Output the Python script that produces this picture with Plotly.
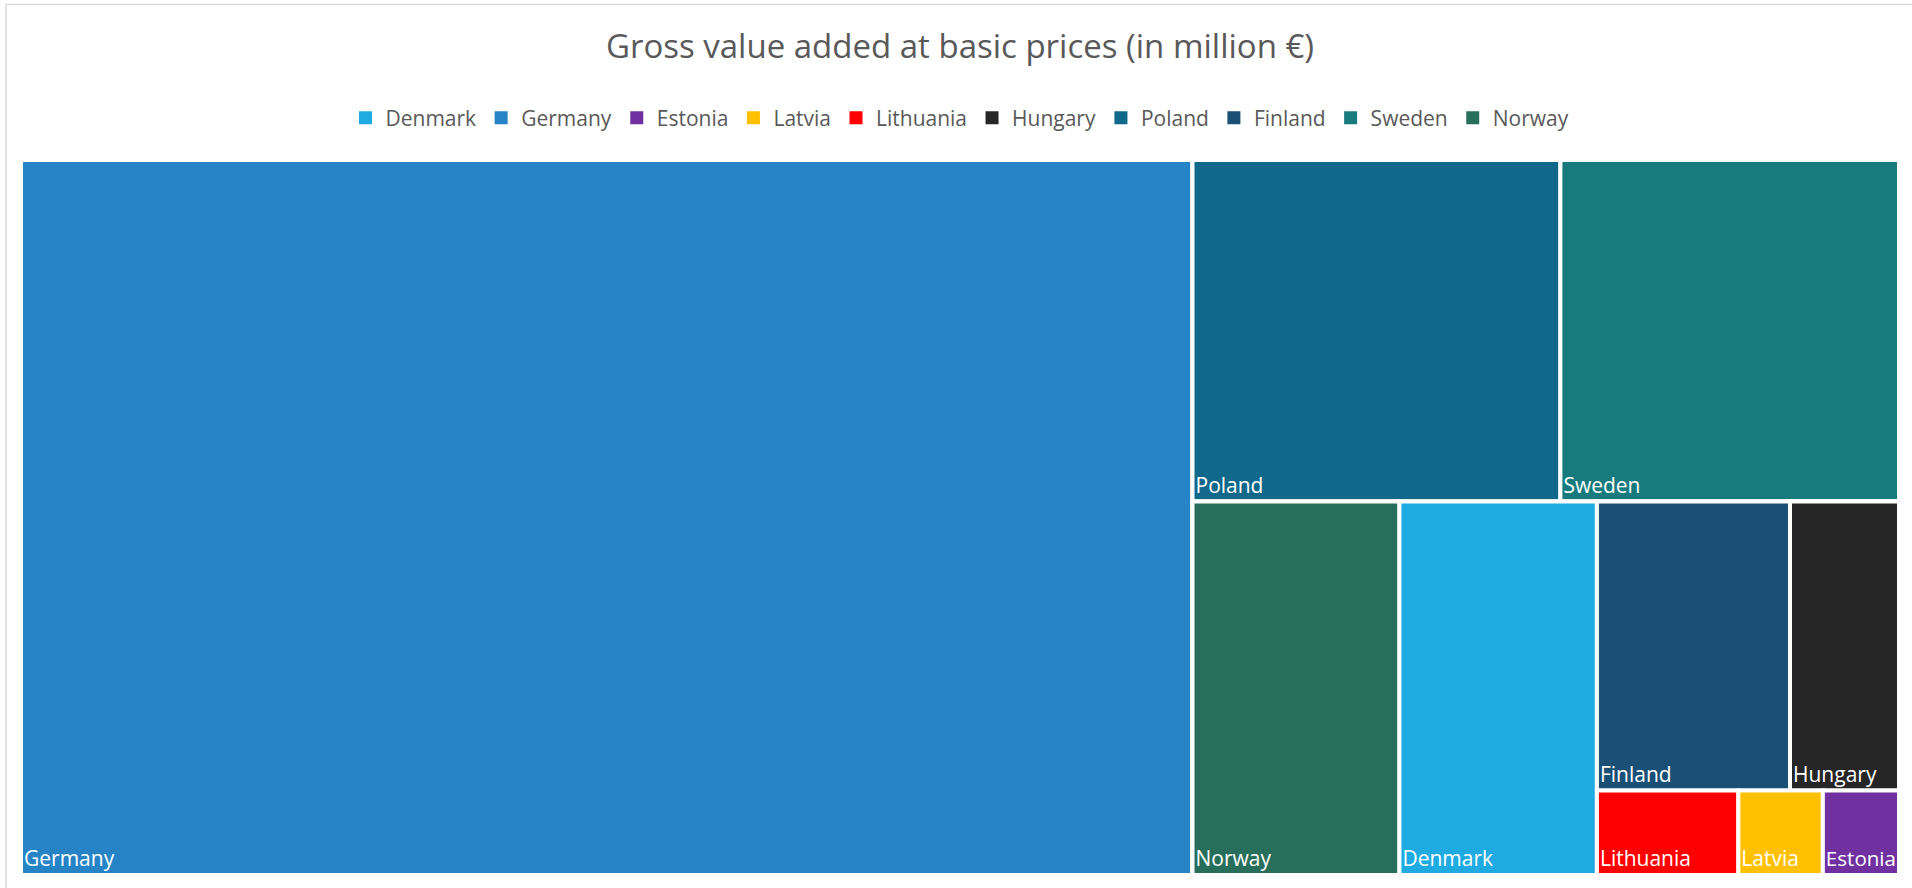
import plotly.graph_objects as go

# ---- data (million €) ----
countries = ["Germany", "Poland", "Sweden", "Norway", "Denmark",
             "Finland", "Hungary", "Lithuania", "Latvia", "Estonia"]
gva = [3100000, 465000, 428000, 286000, 273000, 206500, 116600, 44200, 26400, 23800]
legend_order = ["Denmark", "Germany", "Estonia", "Latvia", "Lithuania",
                "Hungary", "Poland", "Finland", "Sweden", "Norway"]
country_colors = {
    "Denmark": "#1FABE2", "Germany": "#2683C6", "Estonia": "#7030A0",
    "Latvia": "#FFC000", "Lithuania": "#FF0000", "Hungary": "#262626",
    "Poland": "#10688A", "Finland": "#1A4F76", "Sweden": "#177B7E",
    "Norway": "#286F5B",
}

# hidden grouping so the tiling follows the original arrangement
hier_ids = ["Germany", "g1", "Poland", "Sweden", "g2", "Norway", "Denmark",
            "g3", "g4", "Finland", "Hungary", "g5", "Lithuania", "Latvia", "Estonia"]
hier_parents = ["", "", "g1", "g1", "g1", "g2", "g2", "g2", "g3", "g4", "g4",
                "g3", "g5", "g5", "g5"]

val_map = dict(zip(countries, gva))
values = [val_map.get(i, 0) for i in hier_ids]
labels = [i if i in val_map else " " for i in hier_ids]
texts = [i if i in val_map else "" for i in hier_ids]
cols = [country_colors.get(i, "#FFFFFF") for i in hier_ids]

font_family = "Open Sans, Noto Sans, sans-serif"

fig = go.Figure()
fig.add_trace(go.Treemap(
    ids=hier_ids, labels=labels, parents=hier_parents, values=values,
    branchvalues="remainder", sort=False,
    text=texts, texttemplate="%{text}", textposition="bottom left",
    textfont=dict(family=font_family, size=21, color="white"),
    marker=dict(colors=cols, line=dict(color="white", width=4),
                pad=dict(t=0, l=0, r=0, b=0), depthfade=False),
    tiling=dict(packing="squarify", squarifyratio=1, pad=0),
    pathbar=dict(visible=False),
    hoverinfo="label+value",
))

for name in legend_order:
    fig.add_trace(go.Scatter(
        x=[None], y=[None], mode="markers", name=name,
        marker=dict(symbol="square", size=13, color=country_colors[name]),
        showlegend=True, hoverinfo="skip",
    ))

fig.update_layout(
    width=1912, height=888,
    margin=dict(l=21, r=13, t=160, b=13),
    paper_bgcolor="white", plot_bgcolor="white",
    font=dict(family=font_family, color="#595959"),
    title=dict(text="Gross value added at basic prices (in million €)",
               x=0.5, xref="paper", xanchor="center",
               y=1 - 46.5 / 888, yref="container", yanchor="middle",
               font=dict(size=33, color="#595959", family=font_family)),
    legend=dict(orientation="h", x=0.5, xanchor="center", y=1.0587, yanchor="middle",
                font=dict(size=21, color="#595959", family=font_family),
                bgcolor="rgba(0,0,0,0)"),
    xaxis=dict(visible=False), yaxis=dict(visible=False),
    shapes=[dict(type="rect", xref="paper", yref="paper",
                 x0=-0.008, x1=1.05, y0=-0.05, y1=1.2175,
                 line=dict(color="#D9D9D9", width=1.5), fillcolor="rgba(0,0,0,0)",
                 layer="below")],
)

fig.write_html("out.html",
               config={"displayModeBar": False},
               post_script="document.body.style.margin='0';document.body.style.overflow='hidden';")
